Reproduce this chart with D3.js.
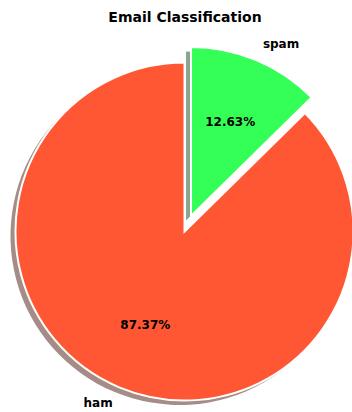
<!DOCTYPE html>
<html>
<head>
<meta charset="utf-8">
<script src="https://cdn.jsdelivr.net/npm/d3@7"></script>
<style>
  html, body { margin: 0; padding: 0; background: #fff; overflow: hidden; }
  text { font-family: "DejaVu Sans", sans-serif; font-weight: bold; fill: #000; }
</style>
</head>
<body>
<div id="chart"></div>
<script>
// Data
const categories = ['ham', 'spam'];
const counts = [4516, 653];
const colors = ['#FF5733', '#33FF57'];
const explode = [0, 0.1];

const width = 352, height = 412;
const cx = 184.5, cy = 231.5, radius = 169;

const svg = d3.select('#chart')
    .append('svg')
    .attr('width', width)
    .attr('height', height);

// Title
svg.append('text')
    .attr('x', 185)
    .attr('y', 22)
    .attr('text-anchor', 'middle')
    .style('font-size', '14px')
    .text('Email Classification');

const data = categories.map((c, i) => ({ label: c, value: counts[i], color: colors[i], explode: explode[i] }));
const total = d3.sum(counts);

// matplotlib style: start at 12 o'clock, counter-clockwise
const pie = d3.pie()
    .sort(null)
    .value(d => d.value)
    .startAngle(0)
    .endAngle(-2 * Math.PI);

const arcs = pie(data);
const arc = d3.arc().innerRadius(0).outerRadius(radius);

function offset(d, dist) {
    const mid = (d.startAngle + d.endAngle) / 2;
    return [dist * Math.sin(mid), -dist * Math.cos(mid)];
}

const g = svg.append('g').attr('transform', `translate(${cx},${cy})`);

// Shadows first (below all wedges)
const shadowDx = -5, shadowDy = 4.5;
arcs.forEach(d => {
    const [ex, ey] = offset(d, d.data.explode * radius);
    const c = d3.rgb(d.data.color);
    g.append('path')
        .attr('d', arc(d))
        .attr('transform', `translate(${ex + shadowDx},${ey + shadowDy})`)
        .attr('fill', d3.rgb(c.r * 0.3, c.g * 0.3, c.b * 0.3))
        .attr('fill-opacity', 0.5);
});

// Wedges
arcs.forEach(d => {
    const [ex, ey] = offset(d, d.data.explode * radius);
    g.append('path')
        .attr('d', arc(d))
        .attr('transform', `translate(${ex},${ey})`)
        .attr('fill', d.data.color)
        .attr('stroke', '#fff')
        .attr('stroke-width', 2)
        .attr('stroke-linejoin', 'miter');
});

// Labels and percentages
arcs.forEach(d => {
    const [ex, ey] = offset(d, d.data.explode * radius);
    const [lx, ly] = offset(d, 1.1 * radius);
    g.append('text')
        .attr('x', ex + lx)
        .attr('y', ey + ly)
        .attr('text-anchor', lx < 0 ? 'end' : 'start')
        .attr('dominant-baseline', 'central')
        .style('font-size', '12px')
        .text(d.data.label);

    const [px, py] = offset(d, 0.6 * radius);
    g.append('text')
        .attr('x', ex + px)
        .attr('y', ey + py)
        .attr('text-anchor', 'middle')
        .attr('dominant-baseline', 'central')
        .style('font-size', '12px')
        .text((d.data.value / total * 100).toFixed(2) + '%');
});
</script>
</body>
</html>
